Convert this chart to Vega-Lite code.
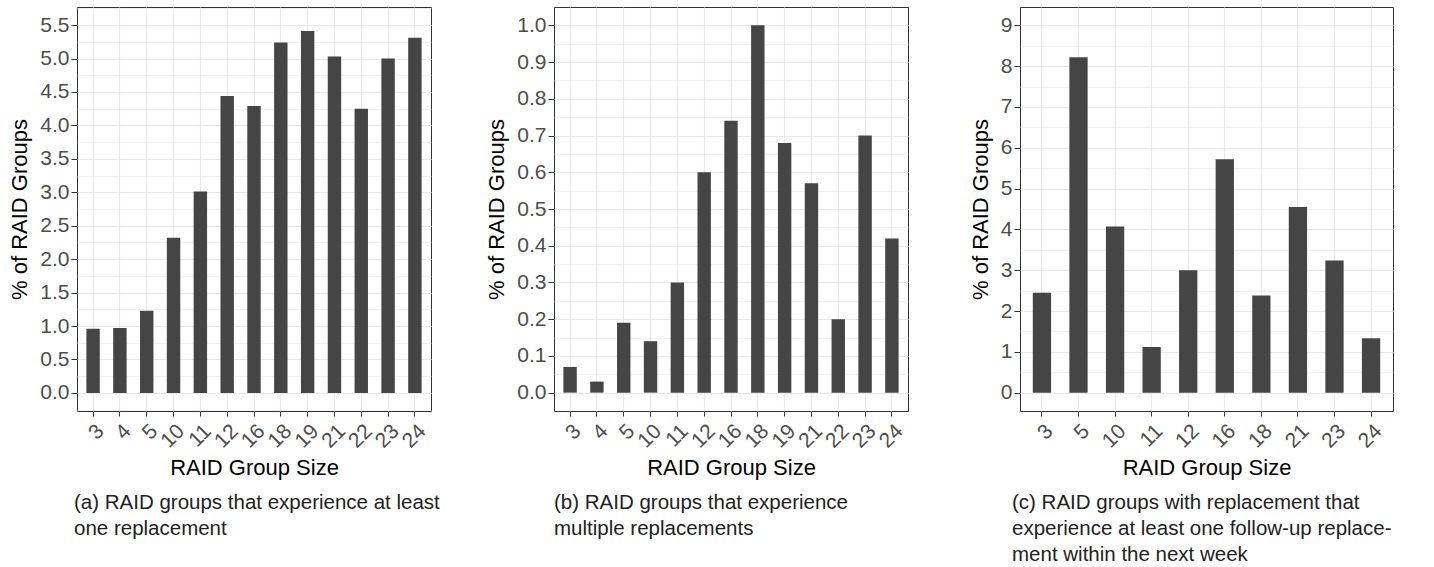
{
  "$schema": "https://vega.github.io/schema/vega-lite/v6.json",
  "background": "white",
  "padding": {"left": 8, "top": 6, "right": 5, "bottom": 5},
  "config": {
    "font": "Liberation Sans",
    "view": {"stroke": "#333333", "strokeWidth": 1},
    "axis": {
      "labelFont": "Liberation Sans", "labelFontSize": 21, "labelColor": "#4D4D4D",
      "titleFont": "Liberation Sans", "titleFontSize": 22, "titleFontWeight": "normal", "titleColor": "#000000",
      "tickColor": "#333333", "domain": false, "gridColor": "#E8E8E8", "gridWidth": 1.2
    },
    "title": {"font": "Liberation Sans", "fontSize": 20.5, "fontWeight": "normal", "color": "#222222", "orient": "bottom", "anchor": "start", "frame": "group", "lineHeight": 26, "baseline": "top", "offset": 15}
  },
  "datasets": {
    "a": [
      {"size": 3, "pct": 0.96}, {"size": 4, "pct": 0.97}, {"size": 5, "pct": 1.23}, {"size": 10, "pct": 2.32},
      {"size": 11, "pct": 3.01}, {"size": 12, "pct": 4.44}, {"size": 16, "pct": 4.29}, {"size": 18, "pct": 5.24},
      {"size": 19, "pct": 5.41}, {"size": 21, "pct": 5.03}, {"size": 22, "pct": 4.25}, {"size": 23, "pct": 5.0},
      {"size": 24, "pct": 5.31}
    ],
    "b": [
      {"size": 3, "pct": 0.07}, {"size": 4, "pct": 0.03}, {"size": 5, "pct": 0.19}, {"size": 10, "pct": 0.14},
      {"size": 11, "pct": 0.3}, {"size": 12, "pct": 0.6}, {"size": 16, "pct": 0.74}, {"size": 18, "pct": 1.0},
      {"size": 19, "pct": 0.68}, {"size": 21, "pct": 0.57}, {"size": 22, "pct": 0.2}, {"size": 23, "pct": 0.7},
      {"size": 24, "pct": 0.42}
    ],
    "c": [
      {"size": 3, "pct": 2.45}, {"size": 5, "pct": 8.22}, {"size": 10, "pct": 4.07}, {"size": 11, "pct": 1.12},
      {"size": 12, "pct": 3.0}, {"size": 16, "pct": 5.72}, {"size": 18, "pct": 2.38}, {"size": 21, "pct": 4.55},
      {"size": 23, "pct": 3.24}, {"size": 24, "pct": 1.33}
    ]
  },
  "bounds": "flush",
  "spacing": 123,
  "hconcat": [
    {
      "width": 354, "height": 404,
      "data": {"name": "a"},
      "title": {"text": ["(a) RAID groups that experience at least", "one replacement"], "dx": -3},
      "layer": [
        {
          "mark": {"type": "bar", "color": "#454545"},
          "encoding": {
            "x": {"field": "size", "type": "ordinal", "scale": {"paddingInner": 0.5, "paddingOuter": 0.35},
                  "axis": {"title": "RAID Group Size", "labelAngle": -45, "grid": true, "bandPosition": 0.5, "tickSize": 5, "labelPadding": 4, "titlePadding": 6}},
            "y": {"field": "pct", "type": "quantitative", "scale": {"domain": [-0.27, 5.77], "nice": false, "zero": false},
                  "axis": {"title": "% of RAID Groups", "values": [0, 0.5, 1, 1.5, 2, 2.5, 3, 3.5, 4, 4.5, 5, 5.5], "format": ".1f", "tickSize": 6, "labelPadding": 2, "titlePadding": 8}},
            "y2": {"datum": 0}
          }
        },
        {
          "mark": {"type": "bar", "opacity": 0},
          "encoding": {
            "x": {"field": "size", "type": "ordinal"},
            "y": {"field": "pct", "type": "quantitative",
                  "axis": {"orient": "right", "values": [-0.25, 0.25, 0.75, 1.25, 1.75, 2.25, 2.75, 3.25, 3.75, 4.25, 4.75, 5.25, 5.75], "labels": false, "ticks": false, "domain": false, "title": null, "grid": true, "gridWidth": 0.6}},
            "y2": {"datum": 0}
          }
        }
      ],
      "resolve": {"axis": {"y": "independent"}}
    },
    {
      "bounds": "flush",
      "spacing": 112,
      "hconcat": [
        {
          "width": 354, "height": 404,
          "data": {"name": "b"},
          "title": {"text": ["(b) RAID groups that experience", "multiple replacements"]},
          "layer": [
            {
              "mark": {"type": "bar", "color": "#454545"},
              "encoding": {
                "x": {"field": "size", "type": "ordinal", "scale": {"paddingInner": 0.5, "paddingOuter": 0.35},
                      "axis": {"title": "RAID Group Size", "labelAngle": -45, "grid": true, "bandPosition": 0.5, "tickSize": 5, "labelPadding": 4, "titlePadding": 6}},
                "y": {"field": "pct", "type": "quantitative", "scale": {"domain": [-0.05, 1.05], "nice": false, "zero": false},
                      "axis": {"title": "% of RAID Groups", "values": [0, 0.1, 0.2, 0.3, 0.4, 0.5, 0.6, 0.7, 0.8, 0.9, 1.0], "format": ".1f", "tickSize": 6, "labelPadding": 2, "titlePadding": 8}},
                "y2": {"datum": 0}
              }
            },
            {
              "mark": {"type": "bar", "opacity": 0},
              "encoding": {
                "x": {"field": "size", "type": "ordinal"},
                "y": {"field": "pct", "type": "quantitative",
                      "axis": {"orient": "right", "values": [0.05, 0.15, 0.25, 0.35, 0.45, 0.55, 0.65, 0.75, 0.85, 0.95], "labels": false, "ticks": false, "domain": false, "title": null, "grid": true, "gridWidth": 0.6}},
                "y2": {"datum": 0}
              }
            }
          ],
          "resolve": {"axis": {"y": "independent"}}
        },
        {
          "width": 373, "height": 404,
          "data": {"name": "c"},
          "title": {"text": ["(c) RAID groups with replacement that", "experience at least one follow-up replace-", "ment within the next week"], "dx": -8},
          "layer": [
            {
              "mark": {"type": "bar", "color": "#454545"},
              "encoding": {
                "x": {"field": "size", "type": "ordinal", "scale": {"paddingInner": 0.5, "paddingOuter": 0.35},
                      "axis": {"title": "RAID Group Size", "labelAngle": -45, "grid": true, "bandPosition": 0.5, "tickSize": 5, "labelPadding": 4, "titlePadding": 6}},
                "y": {"field": "pct", "type": "quantitative", "scale": {"domain": [-0.45, 9.45], "nice": false, "zero": false},
                      "axis": {"title": "% of RAID Groups", "values": [0, 1, 2, 3, 4, 5, 6, 7, 8, 9], "format": "d", "tickSize": 6, "labelPadding": 2, "titlePadding": 8}},
                "y2": {"datum": 0}
              }
            },
            {
              "mark": {"type": "bar", "opacity": 0},
              "encoding": {
                "x": {"field": "size", "type": "ordinal"},
                "y": {"field": "pct", "type": "quantitative",
                      "axis": {"orient": "right", "values": [0.5, 1.5, 2.5, 3.5, 4.5, 5.5, 6.5, 7.5, 8.5], "labels": false, "ticks": false, "domain": false, "title": null, "grid": true, "gridWidth": 0.6}},
                "y2": {"datum": 0}
              }
            }
          ],
          "resolve": {"axis": {"y": "independent"}}
        }
      ]
    }
  ]
}
